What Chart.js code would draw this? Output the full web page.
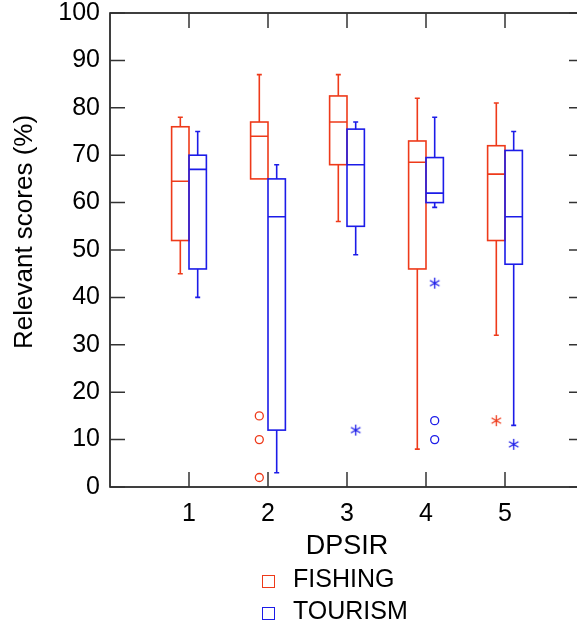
<!DOCTYPE html>
<html>
<head>
<meta charset="utf-8">
<script src="https://cdn.jsdelivr.net/npm/chart.js@4"></script>
<style>
  html, body { margin: 0; padding: 0; overflow: hidden; background: #fff; }
  #wrap { position: relative; width: 600px; height: 632px; }
  .legend { position: absolute; left: 262px; font: 25px "Liberation Sans", Arial, sans-serif; color: #000; }
  .legend span.box { position: absolute; left: 0; width: 11px; height: 11px; border: 1.5px solid; }
  .legend span.txt { position: absolute; left: 31px; white-space: nowrap; }
</style>
</head>
<body>
<div id="wrap">
  <canvas id="boxChart"></canvas>
  <div class="legend" style="top:564px"><span class="box" style="top:11px;border-color:#ee3a1a"></span><span class="txt">FISHING</span></div>
  <div class="legend" style="top:596px"><span class="box" style="top:11px;border-color:#1c1ce8"></span><span class="txt">TOURISM</span></div>
</div>
<script>
const categories = [1, 2, 3, 4, 5];
const yTicks = [0, 10, 20, 30, 40, 50, 60, 70, 80, 90, 100];

// FISHING
const fishingMin    = [45, 65, 56, 8, 32];
const fishingQ1     = [52, 65, 68, 46, 52];
const fishingMedian = [64.5, 74, 77, 68.5, 66];
const fishingQ3     = [76, 77, 82.5, 73, 72];
const fishingMax    = [78, 87, 87, 82, 81];
const fishingCircles = [[], [15, 10, 2], [], [], []];
const fishingStars   = [[], [], [], [], [14]];

// TOURISM
const tourismMin    = [40, 3, 49, 59, 13];
const tourismQ1     = [46, 12, 55, 60, 47];
const tourismMedian = [67, 57, 68, 62, 57];
const tourismQ3     = [70, 65, 75.5, 69.5, 71];
const tourismMax    = [75, 68, 77, 78, 75];
const tourismCircles = [[], [], [], [14, 10], []];
const tourismStars   = [[], [], [12], [43], [9]];

const RED = '#ee3a1a';
const BLUE = '#1c1ce8';
const BOX_W = 0.22;  // box width in category units
const FONT = '"Liberation Sans", Arial, sans-serif';

const series = [
  { color: RED, side: -1, min: fishingMin, q1: fishingQ1, med: fishingMedian, q3: fishingQ3, max: fishingMax },
  { color: BLUE, side: 1, min: tourismMin, q1: tourismQ1, med: tourismMedian, q3: tourismQ3, max: tourismMax }
];

function outlierPoints(lists, side) {
  const pts = [];
  lists.forEach((vals, i) => vals.forEach(v => pts.push({ x: categories[i] + side * BOX_W / 2, y: v })));
  return pts;
}

// six-armed asterisk marker, like the matlab '*'
function asterisk(color) {
  const c = document.createElement('canvas');
  c.width = 13; c.height = 13;
  const g = c.getContext('2d');
  g.strokeStyle = color;
  g.lineWidth = 1.3;
  g.beginPath();
  [90, 30, 150].forEach(deg => {
    const r = 5.5, t = deg * Math.PI / 180;
    g.moveTo(6.5 - r * Math.cos(t), 6.5 - r * Math.sin(t));
    g.lineTo(6.5 + r * Math.cos(t), 6.5 + r * Math.sin(t));
  });
  g.stroke();
  return c;
}

const boxPlugin = {
  id: 'boxes',
  beforeDatasetsDraw(chart) {
    const { ctx, scales: { x, y } } = chart;
    ctx.save();
    ctx.lineWidth = 1.6;
    series.forEach(s => {
      ctx.strokeStyle = s.color;
      categories.forEach((c, i) => {
        const xa = x.getPixelForValue(s.side < 0 ? c - BOX_W : c);
        const xb = x.getPixelForValue(s.side < 0 ? c : c + BOX_W);
        const xm = (xa + xb) / 2;
        const yq1 = y.getPixelForValue(s.q1[i]);
        const yq3 = y.getPixelForValue(s.q3[i]);
        const ymed = y.getPixelForValue(s.med[i]);
        const ymin = y.getPixelForValue(s.min[i]);
        const ymax = y.getPixelForValue(s.max[i]);
        ctx.strokeRect(xa, yq3, xb - xa, yq1 - yq3);
        ctx.beginPath();
        ctx.moveTo(xa, ymed); ctx.lineTo(xb, ymed);
        if (s.max[i] > s.q3[i]) {
          ctx.moveTo(xm, yq3); ctx.lineTo(xm, ymax);
          ctx.moveTo(xm - 2.5, ymax); ctx.lineTo(xm + 2.5, ymax);
        }
        if (s.min[i] < s.q1[i]) {
          ctx.moveTo(xm, yq1); ctx.lineTo(xm, ymin);
          ctx.moveTo(xm - 2.5, ymin); ctx.lineTo(xm + 2.5, ymin);
        }
        ctx.stroke();
      });
    });
    ctx.restore();
  },
  afterDraw(chart) {
    const { ctx, chartArea: a, scales: { x, y } } = chart;
    ctx.save();
    ctx.strokeStyle = '#000';
    ctx.lineWidth = 1.5;
    ctx.strokeRect(a.left, a.top, a.right - a.left, a.bottom - a.top);
    ctx.strokeStyle = '#333';
    ctx.beginPath();
    yTicks.forEach(v => {
      const py = y.getPixelForValue(v);
      ctx.moveTo(a.left, py); ctx.lineTo(a.left + 15, py);
      ctx.moveTo(a.right, py); ctx.lineTo(a.right - 15, py);
    });
    categories.forEach(c => {
      const px = x.getPixelForValue(c);
      ctx.moveTo(px, a.bottom); ctx.lineTo(px, a.bottom - 15);
      ctx.moveTo(px, a.top); ctx.lineTo(px, a.top + 15);
    });
    ctx.stroke();
    ctx.restore();
  }
};

const ctx = document.getElementById('boxChart').getContext('2d');
new Chart(ctx, {
  type: 'scatter',
  data: {
    datasets: [
      { label: 'FISHING circles', data: outlierPoints(fishingCircles, -1), pointStyle: 'circle', radius: 4, borderColor: RED, backgroundColor: 'rgba(0,0,0,0)', borderWidth: 1.3 },
      { label: 'FISHING stars', data: outlierPoints(fishingStars, -1), pointStyle: asterisk(RED), radius: 6 },
      { label: 'TOURISM circles', data: outlierPoints(tourismCircles, 1), pointStyle: 'circle', radius: 4, borderColor: BLUE, backgroundColor: 'rgba(0,0,0,0)', borderWidth: 1.3 },
      { label: 'TOURISM stars', data: outlierPoints(tourismStars, 1), pointStyle: asterisk(BLUE), radius: 6 }
    ]
  },
  options: {
    responsive: true,
    maintainAspectRatio: false,
    animation: false,
    layout: { padding: { left: 0, right: 16, top: 13, bottom: 0 } },
    plugins: { legend: { display: false }, tooltip: { enabled: false } },
    scales: {
      x: {
        type: 'linear', min: 0, max: 6,
        grid: { display: false, drawTicks: false },
        border: { display: false },
        ticks: {
          stepSize: 1, padding: 12, color: '#000', font: { family: FONT, size: 25 },
          callback: v => (v >= 1 && v <= 5) ? String(v) : ''
        },
        title: { display: true, text: 'DPSIR', color: '#000', font: { family: FONT, size: 27 }, padding: { top: 0, bottom: 69 } },
        afterFit: s => { s.height = 145; s.paddingLeft = 0; s.paddingRight = 0; }
      },
      y: {
        min: 0, max: 100,
        grid: { display: false, drawTicks: false },
        border: { display: false },
        ticks: { stepSize: 10, padding: 10, color: '#000', font: { family: FONT, size: 25 } },
        title: { display: true, text: '     Relevant scores (%)', color: '#000', font: { family: FONT, size: 26 }, padding: { top: 9, bottom: 0 } },
        afterFit: s => { s.width = 110; s.paddingTop = 0; s.paddingBottom = 0; }
      }
    }
  },
  plugins: [boxPlugin]
});
</script>
</body>
</html>
